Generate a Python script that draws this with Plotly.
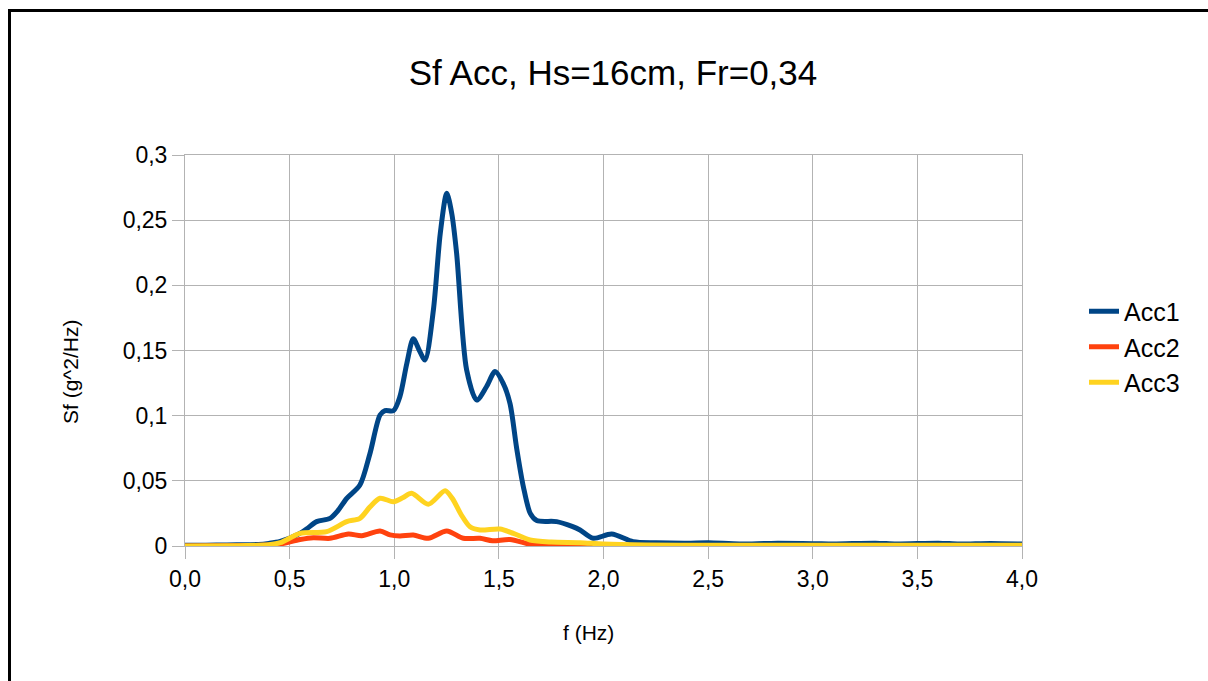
import plotly.graph_objects as go

# Acc1 (blue)
f_acc1 = [0.0, 0.1, 0.2, 0.3, 0.35, 0.4, 0.455, 0.534, 0.58, 0.629, 0.693, 0.73, 0.773, 0.836,
          0.884, 0.932, 0.956, 0.996, 1.027, 1.06, 1.091, 1.12, 1.147, 1.187, 1.22, 1.251,
          1.275, 1.298, 1.346, 1.394, 1.44, 1.482, 1.52, 1.553, 1.585, 1.617, 1.65, 1.681,
          1.776, 1.85, 1.888, 1.951, 2.039, 2.142, 2.25, 2.4, 2.5, 2.65, 2.8, 3.0, 3.1, 3.3,
          3.4, 3.6, 3.7, 3.85, 4.0]
s_acc1 = [0.0005, 0.0006, 0.0008, 0.0010, 0.0012, 0.0020, 0.0035, 0.0084, 0.013, 0.0187, 0.0212,
          0.027, 0.0366, 0.0468, 0.071, 0.1005, 0.1038, 0.1038, 0.1146, 0.140, 0.159, 0.150,
          0.1427, 0.181, 0.240, 0.2706, 0.255, 0.2246, 0.135, 0.112, 0.122, 0.1338, 0.125,
          0.1095, 0.075, 0.0455, 0.025, 0.0195, 0.0187, 0.015, 0.0123, 0.0059, 0.0092, 0.0033,
          0.0025, 0.0022, 0.0025, 0.0015, 0.0020, 0.0018, 0.0015, 0.0022, 0.0015, 0.0022,
          0.0015, 0.0020, 0.0015]

# Acc2 (red)
f_acc2 = [0.0, 0.3, 0.4, 0.455, 0.55, 0.613, 0.693, 0.781, 0.845, 0.932, 0.98, 1.027, 1.091,
          1.163, 1.251, 1.33, 1.41, 1.47, 1.553, 1.665, 1.8, 2.0, 4.0]
s_acc2 = [0.0, 0.0003, 0.0008, 0.0015, 0.005, 0.0064, 0.0059, 0.0092, 0.0079, 0.0115, 0.0085,
          0.0077, 0.0084, 0.0059, 0.0115, 0.0059, 0.0059, 0.004, 0.005, 0.0008, 0.0006, 0.0004,
          0.0003]

# Acc3 (yellow)
f_acc3 = [0.0, 0.3, 0.4, 0.455, 0.55, 0.677, 0.773, 0.836, 0.884, 0.932, 0.996, 1.04, 1.083,
          1.163, 1.243, 1.277, 1.32, 1.362, 1.41, 1.505, 1.569, 1.649, 1.75, 1.888, 2.0, 2.2,
          2.5, 3.0, 4.0]
s_acc3 = [0.0, 0.0003, 0.001, 0.0025, 0.0097, 0.011, 0.0187, 0.0212, 0.030, 0.0366, 0.034, 0.037,
          0.0404, 0.032, 0.0424, 0.0366, 0.024, 0.0148, 0.0123, 0.013, 0.0097, 0.0046, 0.003,
          0.0025, 0.0015, 0.0008, 0.0006, 0.0005, 0.0005]

x_ticks = [0.0, 0.5, 1.0, 1.5, 2.0, 2.5, 3.0, 3.5, 4.0]
x_labels = ["0,0", "0,5", "1,0", "1,5", "2,0", "2,5", "3,0", "3,5", "4,0"]
y_ticks = [0, 0.05, 0.1, 0.15, 0.2, 0.25, 0.3]
y_labels = ["0", "0,05", "0,1", "0,15", "0,2", "0,25", "0,3"]

FONT = "Liberation Sans, Arial, sans-serif"
GRID = "#b3b3b3"

fig = go.Figure()
for name, fx, sy, col in [("Acc1", f_acc1, s_acc1, "#004586"),
                          ("Acc2", f_acc2, s_acc2, "#ff420e"),
                          ("Acc3", f_acc3, s_acc3, "#ffd320")]:
    fig.add_trace(go.Scatter(x=fx, y=sy, mode="lines", name=name,
                             line=dict(color=col, width=5, shape="spline", smoothing=0.8)))

W, H = 1208, 681
L, R, T, B = 185, 1022, 155, 546
pw, ph = R - L, B - T

def px(xp):
    return (xp - L) / pw

def py(yp):
    return (B - yp) / ph

fig.update_layout(
    width=W, height=H,
    margin=dict(l=L, r=W - R, t=T, b=H - B, pad=0),
    paper_bgcolor="white", plot_bgcolor="white",
    font=dict(family=FONT, color="black", size=23),
    title=dict(text="Sf Acc, Hs=16cm, Fr=0,34", x=px(613), xref="paper", xanchor="center",
               y=1 - 73 / H, yanchor="middle", font=dict(size=35, family=FONT)),
    showlegend=True,
    legend=dict(x=px(1084), xanchor="left", y=py(347), yanchor="middle",
                font=dict(size=25, family=FONT), bgcolor="rgba(0,0,0,0)",
                tracegroupgap=0, itemwidth=30),
    xaxis=dict(range=[0, 4], tickvals=x_ticks, ticktext=x_labels, showgrid=True,
               gridcolor=GRID, gridwidth=1, showline=True, linecolor=GRID, linewidth=1,
               mirror=True, ticks="outside", ticklen=12, tickcolor=GRID,
               tickfont=dict(size=23), zeroline=False),
    yaxis=dict(range=[0, 0.3], tickvals=y_ticks, ticktext=y_labels, showgrid=True,
               gridcolor=GRID, gridwidth=1, showline=True, linecolor=GRID, linewidth=1,
               mirror=True, ticks="outside", ticklen=12, tickcolor=GRID,
               tickfont=dict(size=23), zeroline=False),
    annotations=[
        dict(text="f (Hz)", xref="paper", yref="paper", x=px(588), y=py(632),
             xanchor="center", yanchor="middle", showarrow=False,
             font=dict(size=21, family=FONT)),
        dict(text="Sf (g^2/Hz)", xref="paper", yref="paper", x=px(70), y=py(372),
             xanchor="center", yanchor="middle", showarrow=False, textangle=-90,
             font=dict(size=21, family=FONT)),
    ],
    shapes=[
        dict(type="line", xref="paper", yref="paper", x0=px(9.5), x1=px(9.5),
             y0=py(10.5), y1=py(700), line=dict(color="black", width=3)),
        dict(type="line", xref="paper", yref="paper", x0=px(8), x1=px(1230),
             y0=py(10.5), y1=py(10.5), line=dict(color="black", width=3)),
    ],
)

fig.write_html("out.html")
